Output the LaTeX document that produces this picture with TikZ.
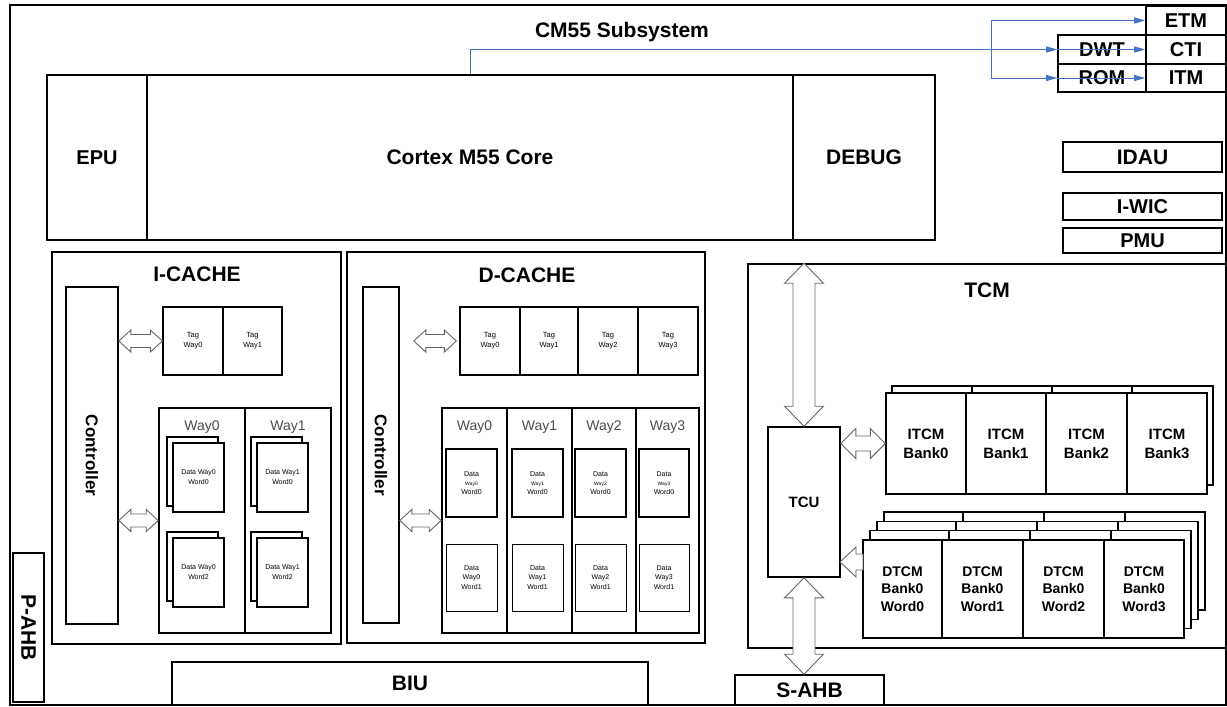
\documentclass[tikz,border=0pt]{standalone}
\usepackage{fontspec}
\setmainfont{Liberation Sans}
\usetikzlibrary{calc,arrows.meta}
\definecolor{dbgblue}{RGB}{68,114,196}
\newcommand\fsz[2]{\fontsize{#1}{#2}\selectfont}
% box node from (x1,y1) to (x2,y2)
\newcommand\bx[7][]{\node[box,minimum width={((#5)-(#3))*1pt},minimum height={((#6)-(#4))*1pt},#1] (#2) at ({((#3)+(#5))/2},{((#4)+(#6))/2}) {#7};}
% horizontal double block arrow
\newcommand\hdbl[5]{\path[blk] let \p1=#1, \p2=#2 in (\x1,\y1) -- (\x1+#3pt,\y1+#4pt) -- (\x1+#3pt,\y1+#5pt) -- (\x2-#3pt,\y1+#5pt) -- (\x2-#3pt,\y1+#4pt) -- (\x2,\y1) -- (\x2-#3pt,\y1-#4pt) -- (\x2-#3pt,\y1-#5pt) -- (\x1+#3pt,\y1-#5pt) -- (\x1+#3pt,\y1-#4pt) -- cycle;}
% horizontal single block arrow pointing left
\newcommand\hsgl[5]{\path[blk] let \p1=#1, \p2=#2 in (\x1,\y1) -- (\x1+#3pt,\y1+#4pt) -- (\x1+#3pt,\y1+#5pt) -- (\x2,\y1+#5pt) -- (\x2,\y1-#5pt) -- (\x1+#3pt,\y1-#5pt) -- (\x1+#3pt,\y1-#4pt) -- cycle;}
% vertical double block arrow (#1 top, #2 bottom)
\newcommand\vdbl[5]{\path[blk] let \p1=#1, \p2=#2 in (\x1,\y1) -- (\x1+#4pt,\y1-#3pt) -- (\x1+#5pt,\y1-#3pt) -- (\x1+#5pt,\y2+#3pt) -- (\x1+#4pt,\y2+#3pt) -- (\x1,\y2) -- (\x1-#4pt,\y2+#3pt) -- (\x1-#5pt,\y2+#3pt) -- (\x1-#5pt,\y1-#3pt) -- (\x1-#4pt,\y1-#3pt) -- cycle;}
% stacked data block (front top-left x,y)
\newcommand\stk[4]{%
\bx[thinb]{#1b}{(#2)-6}{(#3)-6}{(#2)+45}{(#3)+63}{}
\bx[thinb,font=\fsz{7}{10}]{#1}{#2}{#3}{(#2)+51}{(#3)+69}{#4}}
\begin{document}
\begin{tikzpicture}[x=1pt,y=-1pt,
  box/.style={draw,line width=1.6pt,fill=white,inner sep=0pt,align=center,font=\bfseries},
  thinb/.style={line width=1.3pt},
  blk/.style={draw=black!60,fill=white,line width=0.9pt,line join=miter},
  bl/.style={draw=dbgblue,line width=1pt},
  bla/.style={bl,-{Triangle[length=11pt,width=6pt]}},
  ttl/.style={font=\bfseries\fsz{21}{24}},
  wayl/.style={font=\fsz{14}{16},text=black!70},
  tagl/.style={font=\fsz{7.5}{10}}]
\useasboundingbox (0,0) rectangle (1227,707);
\fill[white] (0,0) rectangle (1227,707);
% outer frame
\bx[line width=2pt]{frame}{10}{5}{1226}{705}{}
\node[font=\bfseries\fsz{21}{24}] (title) at (622,32) {CM55 Subsystem};
% core
\bx[font=\bfseries\fsz{20}{24}]{epu}{47}{75}{147}{240}{EPU}
\bx[font=\bfseries\fsz{21}{24}]{cortex}{147}{75}{793}{240}{Cortex M55 Core}
\bx[font=\bfseries\fsz{21}{24}]{debug}{793}{75}{935}{240}{DEBUG}
% debug components
\bx[font=\bfseries\fsz{20}{22}]{etm}{1146}{6}{1226}{35}{ETM}
\bx[font=\bfseries\fsz{20}{22}]{cti}{1146}{35}{1226}{64}{CTI}
\bx[font=\bfseries\fsz{20}{22}]{itm}{1146}{64}{1226}{92}{ITM}
\bx[font=\bfseries\fsz{20}{22}]{dwt}{1058}{35}{1146}{64}{DWT}
\bx[font=\bfseries\fsz{20}{22}]{rom}{1058}{64}{1146}{92}{ROM}
\coordinate (jx) at (991,50);
\coordinate (jt) at (etm.west -| jx);
\coordinate (jb) at (rom.west -| jx);
\draw[bla] (cortex.north) |- (dwt.west);
\draw[bla] (dwt.west) -- (cti.west);
\draw[bla] (rom.west) -- (itm.west);
\draw[bl] (jt) -- (jb);
\draw[bla] (jt) -- (etm.west);
\draw[bla] (jb) -- (rom.west);
% misc
\bx[font=\bfseries\fsz{21}{24}]{idau}{1063}{142}{1222}{172}{IDAU}
\bx[font=\bfseries\fsz{20}{24}]{iwic}{1063}{193}{1222}{220}{I-WIC}
\bx[font=\bfseries\fsz{20}{24}]{pmu}{1063}{228}{1222}{253}{PMU}
% I-CACHE
\bx{icache}{52}{252}{341}{644}{}
\node[ttl] (icachet) at (197,274) {I-CACHE};
\bx{ictrl}{66}{287}{118}{624}{}
\node[rotate=-90,font=\bfseries\fsz{17}{20}] (ictrlt) at (ictrl) {Controller};
\bx[thinb,tagl]{itag0}{163}{307}{223}{375}{Tag\\Way0}
\bx[thinb,tagl]{itag1}{223}{307}{282}{375}{Tag\\Way1}
\bx{iway0}{159}{408}{245}{633}{}
\bx{iway1}{245}{408}{331}{633}{}
\node[wayl] (iwl0) at (202,427) {Way0};
\node[wayl] (iwl1) at (288,427) {Way1};
\stk{id00}{173}{443}{Data Way0\\Word0}
\stk{id02}{173}{538}{Data Way0\\Word2}
\stk{id10}{257}{443}{Data Way1\\Word0}
\stk{id12}{257}{538}{Data Way1\\Word2}
\hdbl{(ictrl.east |- itag0.west)}{(itag0.west)}{12}{11}{6.5}
\hdbl{(ictrl.east |- iway0.west)}{(iway0.west)}{12}{11}{6.5}
% D-CACHE
\bx{dcache}{347}{252}{705}{643}{}
\node[ttl] (dcachet) at (527,275) {D-CACHE};
\bx{dctrl}{363}{287}{399}{623}{}
\node[rotate=-90,font=\bfseries\fsz{17}{20}] (dctrlt) at (dctrl) {Controller};
\foreach \xa/\xb [count=\i from 0] in {460/520,520/578,578/638,638/698}
  {\bx[thinb,tagl]{dtag\i}{\xa}{307}{\xb}{375}{Tag\\Way\i}}
\foreach \xa/\xb [count=\i from 0] in {442/507,507/572,572/636,636/699}
  {\bx{dway\i}{\xa}{408}{\xb}{633}{}
   \node[wayl] (dwl\i) at ({(\xa+\xb)/2},427) {Way\i};}
\foreach \xa/\xb [count=\i from 0] in {446/497,512/563,575/626,639/689}
  {\bx[thinb,font=\fsz{7}{9}]{dwa\i}{\xa}{449}{\xb}{517}{Data\\{\fsz{5}{7}Way\i}\\Word0}
   \bx[line width=1pt,font=\fsz{7}{9.5}]{dwb\i}{\xa}{544}{\xb}{611}{Data\\Way\i\\Word1}}
\hdbl{([xshift=14pt]dctrl.east |- dtag0.west)}{([xshift=-3pt]dtag0.west)}{12}{11}{6.5}
\hdbl{(dctrl.east |- dway0.west)}{(dway0.west)}{12}{11}{6.5}
% TCM
\bx{tcm}{748}{264}{1226}{648}{}
\node[ttl] (tcmt) at (987,290) {TCM};
\bx[font=\bfseries\fsz{15}{18}]{tcu}{768}{427}{840}{577}{TCU}
\foreach \xa/\xb [count=\i from 0] in {892/972,972/1052,1052/1132,1132/1213}
  {\bx[thinb]{ib\i}{\xa}{386}{\xb}{485}{}}
\foreach \xa/\xb [count=\i from 0] in {886/966,966/1046,1046/1127,1127/1207}
  {\bx[thinb,font=\bfseries\fsz{15}{19}]{it\i}{\xa}{393}{\xb}{494}{ITCM\\Bank\i}}
\foreach \k in {3,2,1}
  {\foreach \xa/\xb [count=\i from 0] in {863/942,942/1023,1023/1104,1104/1184}
    {\bx[thinb]{dl\k\i}{\xa+7*\k}{540-9.3*\k}{\xb+7*\k}{638-9.3*\k}{}}}
\foreach \xa/\xb [count=\i from 0] in {863/942,942/1023,1023/1104,1104/1184}
  {\bx[thinb,font=\bfseries\fsz{14}{17.5}]{dt\i}{\xa}{540}{\xb}{638}{DTCM\\Bank0\\Word\i}}
\hdbl{(tcu.east |- it0.west)}{(it0.west)}{15}{15}{7.5}
\coordinate (dta) at (840,562);
\coordinate (dtb) at (863,562);
\hsgl{(dta)}{(dtb)}{16}{15}{8}
% buses
\bx[font=\bfseries\fsz{21}{24}]{sahb}{735}{675}{884}{705}{S-AHB}
\bx[font=\bfseries\fsz{21}{24}]{biu}{172}{662}{648}{705}{BIU}
\bx{pahb}{13}{553}{44}{702}{}
\node[rotate=-90,font=\bfseries\fsz{21}{24}] (pahbt) at (pahb) {P-AHB};
\vdbl{(tcu.north |- tcm.north)}{(tcu.north)}{20}{19.5}{11}
\vdbl{(tcu.south)}{(tcu.south |- sahb.north)}{20}{19.5}{11}
\end{tikzpicture}
\end{document}
